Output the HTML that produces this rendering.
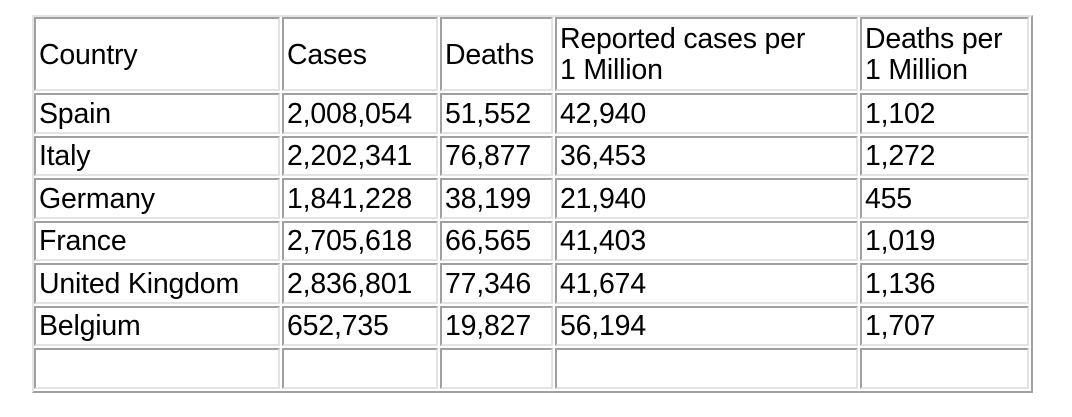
<!DOCTYPE html>
<html><head><meta charset="utf-8"><style>
body{margin:0;width:1072px;height:417px;background:#fff;position:relative;overflow:hidden;font-family:"Liberation Sans",Arial,sans-serif;}
#tbl{position:absolute;left:32px;top:15px;width:997px;height:374px;border:2px solid;border-color:#e3e3e3 #a0a0a0 #a0a0a0 #e3e3e3;}
.c{position:absolute;box-sizing:border-box;border:2px solid;border-color:#a0a0a0 #e3e3e3 #e3e3e3 #a0a0a0;font-size:28.5px;color:#000;padding-left:3px;padding-top:2px;line-height:31px;display:flex;align-items:center;white-space:nowrap;letter-spacing:-0.2px;}
</style></head><body>
<div id="tbl"></div>
<script>
const headers=["Country","Cases","Deaths","Reported cases per<br>1 Million","Deaths per<br>1 Million"];
const countries=["Spain","Italy","Germany","France","United Kingdom","Belgium",""];
const cases=["2,008,054","2,202,341","1,841,228","2,705,618","2,836,801","652,735",""];
const deaths=["51,552","76,877","38,199","66,565","77,346","19,827",""];
const perMillion=["42,940","36,453","21,940","41,403","41,674","56,194",""];
const deathsPerMillion=["1,102","1,272","455","1,019","1,136","1,707",""];
const colX=[34,282,440,555,860,1031];
const rowY=[17,93,135.5,178,220.5,263,305.5,348,391];
const names=["country","cases","deaths","cases-per-million","deaths-per-million"];
function cell(r,c,html){
  const d=document.createElement('div');
  d.className='c';
  
  
  d.style.left=colX[c]+'px';d.style.top=rowY[r]+'px';
  d.style.width=(colX[c+1]-colX[c]-2)+'px';d.style.height=(rowY[r+1]-rowY[r]-2)+'px';
  d.innerHTML=html;
  document.body.appendChild(d);
}
headers.forEach((h,c)=>cell(0,c,h));
countries.forEach((n,i)=>{
  const vals=[n,cases[i],deaths[i],perMillion[i],deathsPerMillion[i]];
  vals.forEach((v,c)=>cell(i+1,c,v));
});
</script>
</body></html>
